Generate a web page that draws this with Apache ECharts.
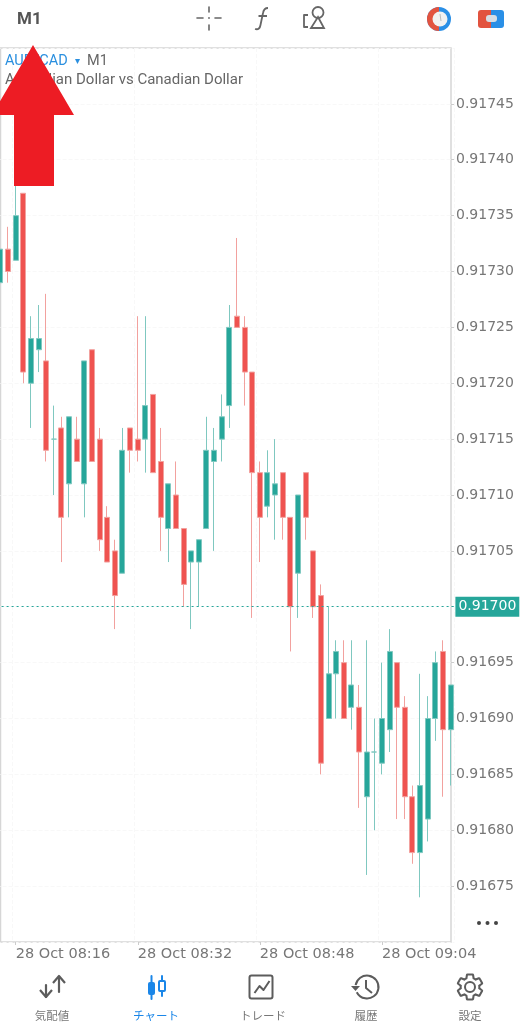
<!DOCTYPE html>
<html>
<head>
<meta charset="UTF-8">
<title>AUD/CAD M1</title>
<style>
  html, body { margin: 0; padding: 0; background: #fff; }
  #chart { width: 526px; height: 1024px; }
</style>
</head>
<body>
<div id="chart"></div>
<script src="https://cdn.jsdelivr.net/npm/echarts@6/dist/echarts.min.js"></script>
<script>
var times = [
  '08:14','08:15','08:16','08:17','08:18','08:19','08:20','08:21','08:22','08:23',
  '08:24','08:25','08:26','08:27','08:28','08:29','08:30','08:31','08:32','08:33',
  '08:34','08:35','08:36','08:37','08:38','08:39','08:40','08:41','08:42','08:43',
  '08:44','08:45','08:46','08:47','08:48','08:49','08:50','08:51','08:52','08:53',
  '08:54','08:55','08:56','08:57','08:58','08:59','09:00','09:01','09:02','09:03',
  '09:04','09:05','09:06','09:07','09:08','09:09','09:10','09:11','09:12','09:13'
];
// prices in points (0.00001) above 0.91700
var basePrice = 0.917;
var opens = [29,32,31,37,20,23,22,15,16,11,15,11,23,15,8,5,3,16,15,15,
             19,13,7,10,7,4,4,7,13,15,18,26,25,21,12,9,10,12,8,3,
             12,5,1,-10,-6,-5,-9,-9,-17,-13,-14,-11,-5,-9,-17,-22,-19,-10,-4,-11];
var closes = [32,30,35,21,24,24,14,15,8,17,13,22,13,6,4,1,14,14,14,18,
              12,8,11,7,2,5,6,14,14,17,25,25,21,12,8,12,11,8,0,10,
              8,0,-14,-6,-4,-10,-7,-13,-13,-13,-10,-4,-9,-17,-22,-16,-10,-5,-11,-7];
var lows = [29,29,31,20,16,21,13,10,4,8,13,8,13,5,4,-2,3,12,13,12,
            12,5,4,7,0,-2,0,7,5,13,16,25,18,-1,4,8,6,6,-4,-1,
            6,-1,-15,-10,-10,-10,-11,-18,-24,-20,-15,-13,-19,-19,-23,-26,-21,-12,-17,-16];
var highs = [32,34,38,37,26,27,28,18,17,17,17,22,23,16,9,6,16,16,26,26,
             19,16,11,13,7,5,6,17,16,19,27,33,26,21,13,14,15,12,8,10,
             12,5,2,0,-3,-3,-3,-7,-3,-10,-5,-2,-5,-8,-16,-6,-8,-4,-3,-7];
var lastPrice = 0.917;
var priceTicks = { min: 0.9167, max: 0.9175, step: 0.00005 };
var timeTickEvery = 16;
var firstTimeTick = 2;

var GREEN = '#26a69a', RED = '#ef5350', GREY = '#666', NAV = '#5c5c5c', BLUE = '#1a86e8';
var MONO = '"DejaVu Sans"';

function toPrice(p) { return basePrice + p / 100000; }

var candles = times.map(function (t, i) {
  return [toPrice(opens[i]), toPrice(closes[i]), toPrice(lows[i]), toPrice(highs[i])];
});

function isTimeTick(i) { return (i - firstTimeTick) % timeTickEvery === 0; }

var gearPath = 'M19.14,12.94c0.04-0.3,0.06-0.61,0.06-0.94c0-0.32-0.02-0.64-0.07-0.94l2.03-1.58c0.18-0.14,0.23-0.41,0.12-0.61l-1.92-3.32c-0.12-0.22-0.37-0.29-0.59-0.22l-2.39,0.96c-0.5-0.38-1.03-0.7-1.62-0.94L14.4,2.81c-0.04-0.24-0.24-0.41-0.48-0.41h-3.84c-0.24,0-0.43,0.17-0.47,0.41L9.25,5.35C8.66,5.59,8.12,5.92,7.63,6.29L5.24,5.33c-0.22-0.08-0.47,0-0.59,0.22L2.74,8.87C2.62,9.08,2.66,9.34,2.86,9.48l2.03,1.58C4.84,11.36,4.8,11.69,4.8,12s0.02,0.64,0.07,0.94l-2.03,1.58c-0.18,0.14-0.23,0.41-0.12,0.61l1.92,3.32c0.12,0.22,0.37,0.29,0.59,0.22l2.39-0.96c0.5,0.38,1.03,0.7,1.62,0.94l0.36,2.54c0.05,0.24,0.24,0.41,0.48,0.41h3.84c0.24,0,0.44-0.17,0.47-0.41l0.36-2.54c0.59-0.24,1.13-0.56,1.62-0.94l2.39,0.96c0.22,0.08,0.47,0,0.59-0.22l1.92-3.32c0.12-0.22,0.07-0.47-0.12-0.61L19.14,12.94z';
var fPath = 'M13 0 C9.5 0 8.5 2 8 5 L5.5 17 C5 20 3.5 22 0 21 M3.5 8 L12 8';
echarts.graphic.registerShape('gearIcon', echarts.graphic.extendPath(gearPath));
echarts.graphic.registerShape('fIcon', echarts.graphic.extendPath(fPath));

function line(x1, y1, x2, y2, color, w) {
  return {
    type: 'line', silent: true, z: 50,
    shape: { x1: x1, y1: y1, x2: x2, y2: y2 },
    style: { stroke: color, lineWidth: w || 2, lineCap: 'round' }
  };
}
function poly(points, color, w) {
  return {
    type: 'polyline', silent: true, z: 50,
    shape: { points: points },
    style: { fill: 'none', stroke: color, lineWidth: w || 2, lineJoin: 'round' }
  };
}
function label(text, x, y, font, color, align) {
  return {
    type: 'text', silent: true, z: 50, x: x, y: y,
    style: { text: text, font: font, fill: color, align: align || 'left', verticalAlign: 'middle' }
  };
}

var chrome = [
  // chart frame
  { type: 'rect', silent: true, z: -1, shape: { x: 0.5, y: 48, width: 450.5, height: 894 },
    style: { fill: '#fff', stroke: '#d6d6d6', lineWidth: 1.5 } },

  // header
  label('M1', 17, 20, 'bold 17px Roboto', '#555'),
  line(197, 18, 203, 18, GREY, 1.6), line(215, 18, 221, 18, GREY, 1.6),
  line(209, 7, 209, 12, GREY, 1.6), line(209, 25, 209, 30, GREY, 1.6),
  { type: 'circle', silent: true, z: 50, shape: { cx: 209, cy: 18, r: 0.9 }, style: { fill: GREY } },
  { type: 'fIcon', silent: true, z: 50, x: 255, y: 8, style: { fill: 'none', stroke: GREY, lineWidth: 1.8 } },
  poly([[308, 15], [304, 15], [304, 27], [308, 27]], GREY, 1.8),
  { type: 'circle', silent: true, z: 50, shape: { cx: 318, cy: 12.5, r: 5.5 }, style: { fill: 'none', stroke: GREY, lineWidth: 1.8 } },
  { type: 'polygon', silent: true, z: 50, shape: { points: [[318, 17], [324, 28], [311, 28]] }, style: { fill: 'none', stroke: GREY, lineWidth: 1.8 } },
  { type: 'circle', silent: true, z: 50, shape: { cx: 439, cy: 19, r: 12 }, style: { fill: '#2a8fe6' } },
  { type: 'arc', silent: true, z: 51, shape: { cx: 439, cy: 19, r: 9, startAngle: Math.PI * 0.5, endAngle: Math.PI * 1.5 }, style: { fill: 'none', stroke: '#e2533f', lineWidth: 6 } },
  { type: 'circle', silent: true, z: 52, shape: { cx: 440, cy: 19, r: 7.5 }, style: { fill: '#f1f1f1' } },
  { type: 'line', silent: true, z: 53, shape: { x1: 440, y1: 14, x2: 441, y2: 21 }, style: { stroke: '#bbb', lineWidth: 1 } },
  { type: 'rect', silent: true, z: 50, shape: { x: 478, y: 10, width: 13, height: 18, r: [3, 0, 0, 3] }, style: { fill: '#e2533f' } },
  { type: 'rect', silent: true, z: 50, shape: { x: 491, y: 10, width: 13, height: 18, r: [0, 3, 3, 0] }, style: { fill: '#2a8fe6' } },
  { type: 'rect', silent: true, z: 51, shape: { x: 486, y: 15, width: 11, height: 7, r: 3 }, style: { fill: '#d6dde4' } },

  // symbol caption
  label('AUD/CAD', 5, 61, '14.5px Roboto', '#2a8fdf'),
  label('▾', 75, 61, '10px "DejaVu Sans"', '#2a8fdf'),
  label('M1', 87, 61, '14.5px Roboto', GREY),
  label('Australian Dollar vs Canadian Dollar', 5, 80.5, '15px Roboto', GREY),

  // more dots
  { type: 'circle', silent: true, z: 50, shape: { cx: 479, cy: 923, r: 2 }, style: { fill: '#444' } },
  { type: 'circle', silent: true, z: 50, shape: { cx: 487.5, cy: 923, r: 2 }, style: { fill: '#444' } },
  { type: 'circle', silent: true, z: 50, shape: { cx: 496, cy: 923, r: 2 }, style: { fill: '#444' } },

  // bottom nav: quotes
  line(46, 985, 46, 997, NAV, 2.2),
  poly([[40, 990], [46, 997], [52, 990]], NAV, 2.2),
  line(59, 978, 59, 992, NAV, 2.2),
  poly([[53, 983], [59, 976], [65, 983]], NAV, 2.2),
  // bottom nav: chart (active)
  line(151.5, 976, 151.5, 999, BLUE, 2),
  { type: 'rect', silent: true, z: 51, shape: { x: 148, y: 982, width: 7, height: 13, r: 2 }, style: { fill: BLUE } },
  line(162, 976, 162, 996, BLUE, 2),
  { type: 'rect', silent: true, z: 51, shape: { x: 159, y: 981, width: 6, height: 10, r: 1 }, style: { fill: '#fff', stroke: BLUE, lineWidth: 2 } },
  // bottom nav: trade
  { type: 'rect', silent: true, z: 50, shape: { x: 249.5, y: 975.5, width: 23, height: 23, r: 2 }, style: { fill: 'none', stroke: NAV, lineWidth: 2 } },
  poly([[254.5, 993], [259.5, 986], [263.5, 990], [269.5, 981]], NAV, 2),
  // bottom nav: history
  { type: 'arc', silent: true, z: 50, shape: { cx: 367, cy: 987, r: 11.5, startAngle: -Math.PI * 0.95, endAngle: Math.PI * 0.85 }, style: { fill: 'none', stroke: NAV, lineWidth: 2 } },
  { type: 'polygon', silent: true, z: 50, shape: { points: [[351, 986], [360, 986], [355.5, 991]] }, style: { fill: NAV } },
  poly([[366, 980], [366, 988], [372, 993]], NAV, 2),
  // bottom nav: settings
  { type: 'gearIcon', silent: true, z: 50, x: 454.4, y: 971.4, scaleX: 1.3, scaleY: 1.3, style: { fill: 'none', stroke: NAV, lineWidth: 1.6 } },
  { type: 'circle', silent: true, z: 50, shape: { cx: 470, cy: 987, r: 5 }, style: { fill: 'none', stroke: NAV, lineWidth: 2 } },

  label('気配値', 52, 1016, '11.5px "Noto Sans CJK JP"', '#777', 'center'),
  label('チャート', 156, 1016, '11.5px "Noto Sans CJK JP"', BLUE, 'center'),
  label('トレード', 263, 1016, '11.5px "Noto Sans CJK JP"', '#777', 'center'),
  label('履歴', 366, 1016, '11.5px "Noto Sans CJK JP"', '#777', 'center'),
  label('設定', 470, 1016, '11.5px "Noto Sans CJK JP"', '#777', 'center'),

  // red annotation arrow
  { type: 'polygon', silent: true, z: 100,
    shape: { points: [[33, 45], [74, 115], [54, 115], [54, 186], [14, 186], [14, 115], [-8, 115]] },
    style: { fill: '#ed1c24' } }
];

var myChart = echarts.init(document.getElementById('chart'));
myChart.setOption({
  animation: false,
  backgroundColor: '#fff',
  graphic: { elements: chrome },
  grid: { left: -3.4, width: 457.8, top: 48, height: 894, outerBoundsMode: 'none' },
  xAxis: {
    type: 'category',
    data: times,
    axisLine: { show: false },
    axisTick: { show: true, alignWithLabel: true, length: 3, interval: isTimeTick, lineStyle: { color: '#ccc' } },
    axisLabel: {
      interval: isTimeTick, align: 'left', margin: 5, hideOverlap: false,
      color: '#777', fontFamily: MONO, fontSize: 14.5,
      formatter: function (v) { return '28 Oct ' + v; }
    },
    splitLine: { show: true, interval: isTimeTick, lineStyle: { color: '#f8f8f8', type: 'dashed' } }
  },
  yAxis: {
    type: 'value',
    position: 'right',
    offset: -3.4,
    min: priceTicks.min,
    max: priceTicks.max,
    interval: priceTicks.step,
    axisLine: { show: false },
    axisTick: { show: true, length: 3, lineStyle: { color: '#ccc' } },
    axisLabel: {
      margin: 5, color: '#777', fontFamily: MONO, fontSize: 14,
      showMinLabel: false, showMaxLabel: false,
      formatter: function (v) { return v.toFixed(5); }
    },
    splitLine: { show: true, lineStyle: { color: '#f8f8f8', type: 'dashed' } }
  },
  series: [{
    type: 'candlestick',
    clip: false,
    barWidth: 5.5,
    data: candles,
    itemStyle: {
      color: GREEN, color0: RED,
      borderColor: '#7fc8c0', borderColor0: '#f2a19e', borderWidth: 1
    },
    markLine: {
      silent: true,
      symbol: 'none',
      animation: false,
      precision: 5,
      lineStyle: { color: GREEN, type: [2, 3], width: 1.2 },
      label: {
        position: 'end', distance: 1,
        formatter: function () { return lastPrice.toFixed(5); },
        color: '#fff', backgroundColor: GREEN, padding: [3, 3],
        fontFamily: MONO, fontSize: 14
      },
      data: [{ yAxis: lastPrice }]
    }
  }]
});
</script>
</body>
</html>
